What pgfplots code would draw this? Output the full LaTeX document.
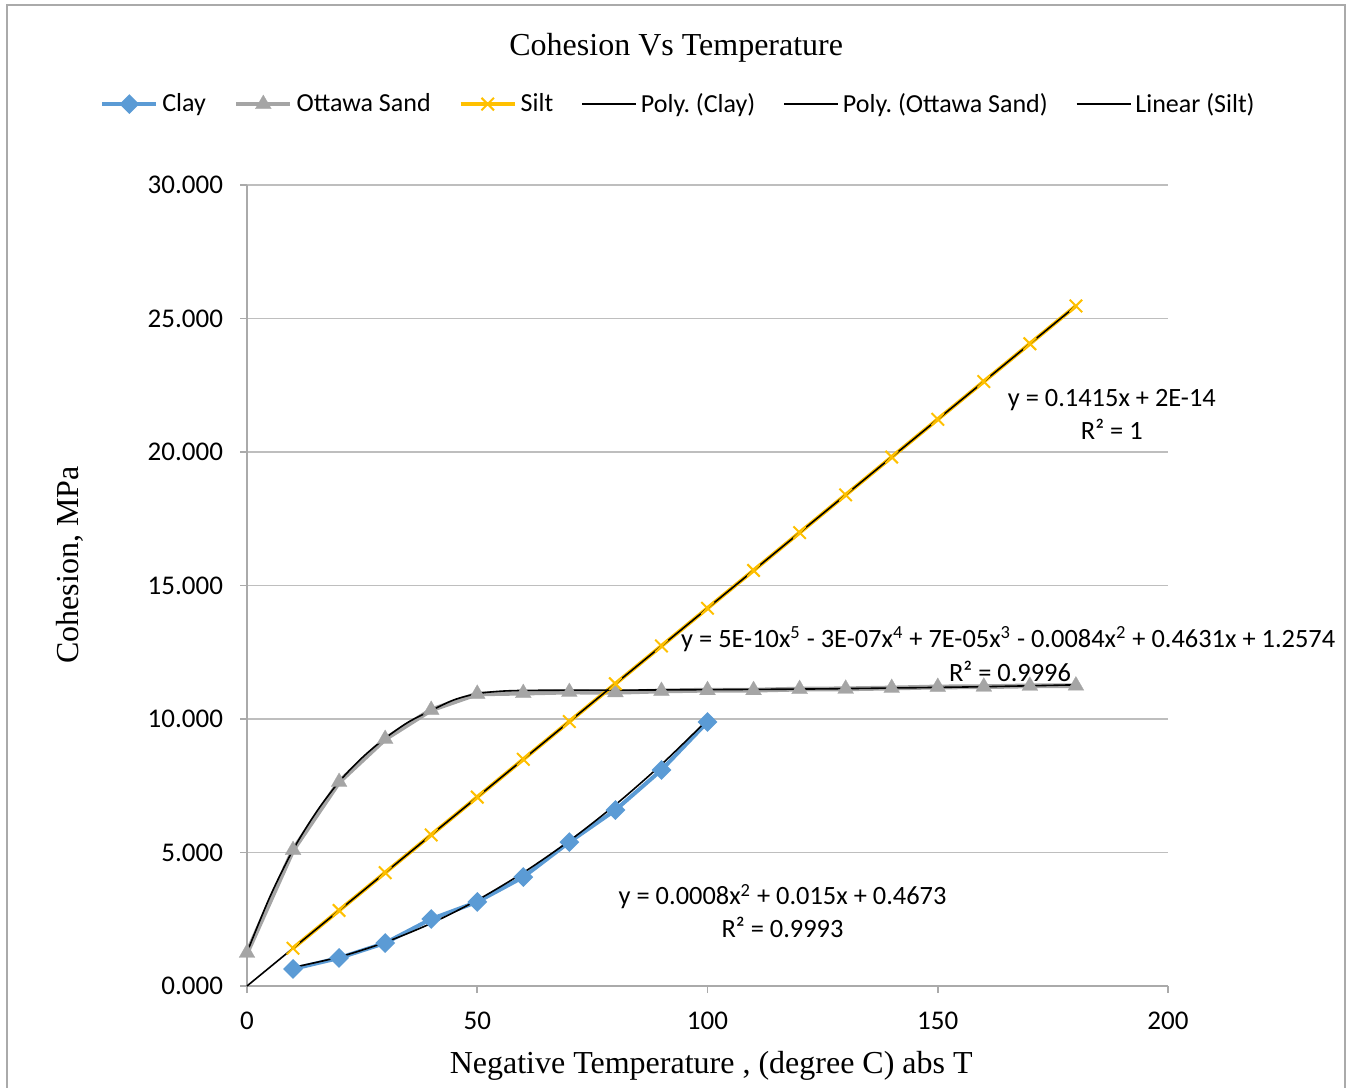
\documentclass[border=0pt]{standalone}
\usepackage{pgfplots}
\pgfplotsset{compat=1.18}
\usepackage{fontspec}
\setmainfont{Carlito}
\newfontfamily\calibri{Carlito}
\newfontfamily\timesf{Liberation Serif}
\definecolor{clay}{RGB}{91,155,213}
\definecolor{sand}{RGB}{165,165,165}
\definecolor{silt}{RGB}{255,192,0}
\definecolor{gridc}{RGB}{190,190,190}
\definecolor{axc}{RGB}{170,170,170}
\begin{document}
\frenchspacing
\begin{tikzpicture}
\useasboundingbox (0,0) rectangle (676pt,543.5pt);
\draw[color=axc, line width=1pt] (3.25pt,-5pt) -- (3.25pt,540.75pt) -- (672.5pt,540.75pt) -- (672.5pt,-5pt);
\begin{axis}[
  at={(123.5pt,50.5pt)}, anchor=south west,
  scale only axis, width=460.5pt, height=400.5pt,
  xmin=0, xmax=200, ymin=0, ymax=30,
  xtick={0,50,100,150,200}, ytick={0,5,10,15,20,25,30},
  axis lines*=left,
  axis line style={color=axc, line width=0.8pt},
  tick style={color=axc, line width=0.8pt},
  tick align=outside, major tick length=3.5pt,
  ymajorgrids, grid style={color=gridc, line width=0.8pt},
  clip=false,
  /pgf/number format/assume math mode=true,
  tick label style={font=\calibri\fontsize{13.5}{15}\selectfont, color=black},
  yticklabel style={xshift=-5pt, /pgf/number format/.cd, fixed, fixed zerofill, precision=3},
  xticklabel style={yshift=-6pt, /pgf/number format/.cd, fixed, precision=0},
  title={\timesf\fontsize{16}{18}\selectfont Cohesion Vs Temperature},
  title style={at={(0.466,1.156)}, anchor=center},
  xlabel={\timesf\fontsize{16}{18}\selectfont Negative Temperature , (degree C) abs T},
  xlabel style={at={(0.504,-0.1002)}, anchor=center},
  ylabel={\timesf\fontsize{16}{18}\selectfont Cohesion, MPa},
  ylabel style={at={(-0.192,0.5256)}, anchor=center, rotate=0},
  legend columns=6,
  legend style={at={(0.4696,1.101)}, anchor=center, draw=none, fill=none,
    font=\calibri\fontsize{13}{15}\selectfont,
    /tikz/every even column/.append style={column sep=12pt}},
  legend image code/.code={\draw[mark repeat=2,mark phase=2,#1] plot coordinates {(0pt,0pt) (13.5pt,0pt) (27pt,0pt)};},
]
% Clay
\addplot[color=clay, line width=2pt, mark=square*, mark size=2.5pt, mark options={rotate=45, solid, fill=clay, draw=clay}] coordinates {
(10,0.64) (20,1.05) (30,1.61) (40,2.51) (50,3.15) (60,4.08) (70,5.39) (80,6.59) (90,8.09) (100,9.89)};
\addlegendentry{Clay}
% Ottawa Sand
\addplot[color=sand, line width=2.4pt, mark=triangle*, mark size=4.6pt, mark options={solid, fill=sand, draw=sand, line width=0.1pt}] coordinates {
(0,1.24) (10,5.09) (20,7.64) (30,9.25) (40,10.34) (50,10.94) (60,10.97) (70,11.01) (80,11.00) (90,11.05) (100,11.08) (110,11.08) (120,11.12) (130,11.13) (140,11.16) (150,11.20) (160,11.21) (170,11.24) (180,11.25)};
\addlegendentry{Ottawa Sand}
% Silt
\addplot[color=silt, line width=2pt, mark=x, mark size=4.4pt, mark options={solid, line width=1pt}] coordinates {
(10,1.415) (20,2.83) (30,4.245) (40,5.66) (50,7.075) (60,8.49) (70,9.905) (80,11.32) (90,12.735) (100,14.15) (110,15.565) (120,16.98) (130,18.395) (140,19.81) (150,21.225) (160,22.64) (170,24.055) (180,25.47)};
\addlegendentry{Silt}
% Trend lines
\addplot[black, line width=0.8pt, smooth] coordinates {
(10,0.697) (20,1.087) (30,1.637) (40,2.347) (50,3.217) (60,4.247) (70,5.437) (80,6.787) (90,8.297) (100,9.967)};
\addlegendentry{Poly. (Clay)}
\addplot[black, line width=0.8pt, smooth] coordinates {
(0,1.26) (5,3.35) (10,5.10) (15,6.50) (20,7.65) (25,8.55) (30,9.28) (35,9.88) (40,10.32) (45,10.72) (50,10.95) (55,11.04) (60,11.07) (70,11.08) (80,11.08) (100,11.10) (120,11.12) (140,11.16) (160,11.21) (180,11.28)};
\addlegendentry{Poly. (Ottawa Sand)}
\addplot[black, line width=0.8pt] coordinates {(0,0) (180,25.47)};
\addlegendentry{Linear (Silt)}
% Equations
\node[font=\calibri\fontsize{13.2}{15}\selectfont, align=center, anchor=center] at (axis cs:187.8,21.4) {y = 0.1415x + 2E-14\\[1.5pt]R² = 1};
\node[font=\calibri\fontsize{13.2}{15}\selectfont, anchor=center] at (axis cs:165.3,13.0) {y = 5E-10x\textsuperscript{5} - 3E-07x\textsuperscript{4} + 7E-05x\textsuperscript{3} - 0.0084x\textsuperscript{2} + 0.4631x + 1.2574};
\node[font=\calibri\fontsize{13.2}{15}\selectfont, anchor=center] at (axis cs:165.7,11.8) {R² = 0.9996};
\node[font=\calibri\fontsize{13.2}{15}\selectfont, align=center, anchor=center] at (axis cs:116.3,2.8) {y = 0.0008x\textsuperscript{2} + 0.015x + 0.4673\\[1.5pt]R² = 0.9993};
\end{axis}
\end{tikzpicture}
\end{document}
